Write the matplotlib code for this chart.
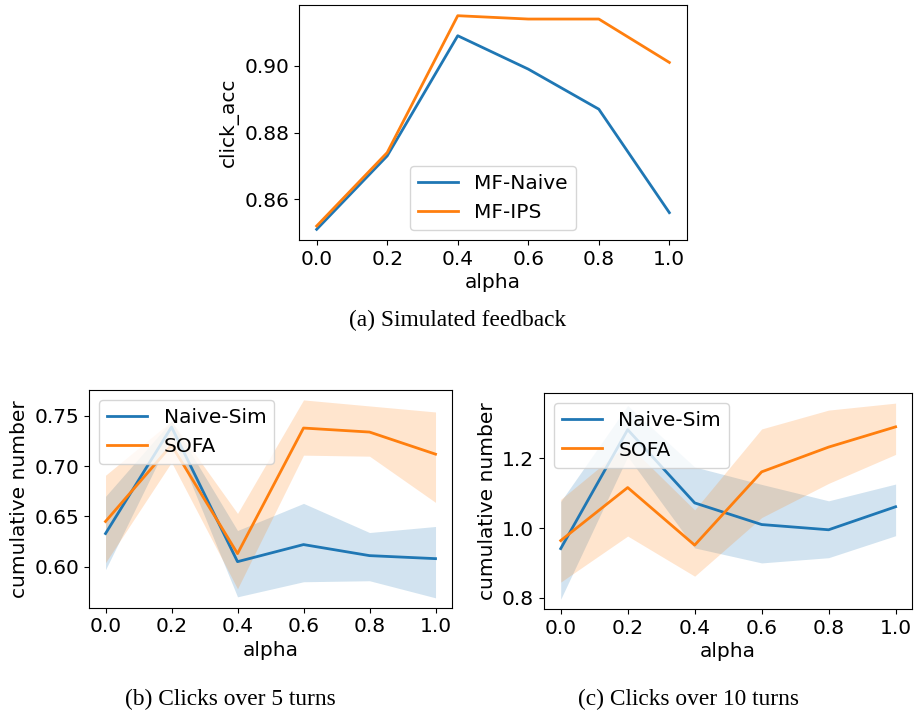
import numpy as np
import matplotlib
matplotlib.use('Agg')
import matplotlib.pyplot as plt

# x axis shared by all panels
alpha = [0.0, 0.2, 0.4, 0.6, 0.8, 1.0]

# (a) simulated feedback
mf_naive = [0.851, 0.873, 0.909, 0.899, 0.887, 0.856]
mf_ips = [0.852, 0.874, 0.915, 0.914, 0.914, 0.901]

# (b) clicks over 5 turns: mean, lower, upper
b_naive = [0.633, 0.739, 0.605, 0.622, 0.611, 0.608]
b_naive_lo = [0.597, 0.731, 0.570, 0.585, 0.586, 0.569]
b_naive_hi = [0.670, 0.745, 0.636, 0.663, 0.634, 0.640]
b_sofa = [0.645, 0.721, 0.613, 0.738, 0.734, 0.712]
b_sofa_lo = [0.604, 0.704, 0.578, 0.711, 0.710, 0.664]
b_sofa_hi = [0.691, 0.745, 0.653, 0.766, 0.760, 0.754]

# (c) clicks over 10 turns
c_naive = [0.941, 1.282, 1.072, 1.010, 0.995, 1.061]
c_naive_lo = [0.796, 1.205, 0.943, 0.900, 0.915, 0.978]
c_naive_hi = [1.076, 1.351, 1.175, 1.125, 1.078, 1.126]
c_sofa = [0.964, 1.116, 0.951, 1.161, 1.232, 1.290]
c_sofa_lo = [0.845, 0.977, 0.862, 1.030, 1.128, 1.211]
c_sofa_hi = [1.082, 1.240, 1.052, 1.284, 1.338, 1.358]

FS = 14.5
blue = '#1f77b4'
orange = '#ff7f0e'
plt.rcParams['font.family'] = ['DejaVu Sans']
plt.rcParams['font.size'] = FS

fig = plt.figure(figsize=(9.15, 7.18), dpi=100)

# panel (a)
ax1 = fig.add_axes([0.3268, 0.6657, 0.424, 0.3273])
ax1.plot(alpha, mf_naive, color=blue, lw=2, label='MF-Naive')
ax1.plot(alpha, mf_ips, color=orange, lw=2, label='MF-IPS')
ax1.set_yticks([0.86, 0.88, 0.90])
ax1.set_xlabel('alpha', fontsize=FS, labelpad=3)
ax1.set_ylabel('click_acc', fontsize=FS)
ax1.legend(loc='lower center', fontsize=FS)

# panel (b)
ax2 = fig.add_axes([0.0973, 0.1536, 0.3967, 0.3032])
ax2.fill_between(alpha, b_naive_lo, b_naive_hi, color=blue, alpha=0.2, lw=0)
ax2.fill_between(alpha, b_sofa_lo, b_sofa_hi, color=orange, alpha=0.2, lw=0)
ax2.plot(alpha, b_naive, color=blue, lw=2, label='Naive-Sim')
ax2.plot(alpha, b_sofa, color=orange, lw=2, label='SOFA')
ax2.set_yticks([0.60, 0.65, 0.70, 0.75])
ax2.set_xlabel('alpha', fontsize=FS, labelpad=3)
ax2.set_ylabel('cumulative number', fontsize=FS)
ax2.legend(loc='upper left', fontsize=FS)

# panel (c)
ax3 = fig.add_axes([0.5945, 0.1518, 0.4026, 0.3004])
ax3.fill_between(alpha, c_naive_lo, c_naive_hi, color=blue, alpha=0.2, lw=0)
ax3.fill_between(alpha, c_sofa_lo, c_sofa_hi, color=orange, alpha=0.2, lw=0)
ax3.plot(alpha, c_naive, color=blue, lw=2, label='Naive-Sim')
ax3.plot(alpha, c_sofa, color=orange, lw=2, label='SOFA')
ax3.set_yticks([0.8, 1.0, 1.2])
ax3.set_xlabel('alpha', fontsize=FS, labelpad=3)
ax3.set_ylabel('cumulative number', fontsize=FS)
ax3.legend(loc='upper left', fontsize=FS)

for ax in (ax1, ax2, ax3):
    ax.set_xticks(alpha)
    ax.tick_params(labelsize=FS)

# captions
cap = dict(family='Liberation Serif', fontsize=16.8, ha='center', va='center')
fig.text(458 / 915, 1 - 320 / 718, '(a) Simulated feedback', **cap)
fig.text(230 / 915, 1 - 699 / 718, '(b) Clicks over 5 turns', **cap)
fig.text(688 / 915, 1 - 699 / 718, '(c) Clicks over 10 turns', **cap)

fig.savefig('out.png', dpi=100)
